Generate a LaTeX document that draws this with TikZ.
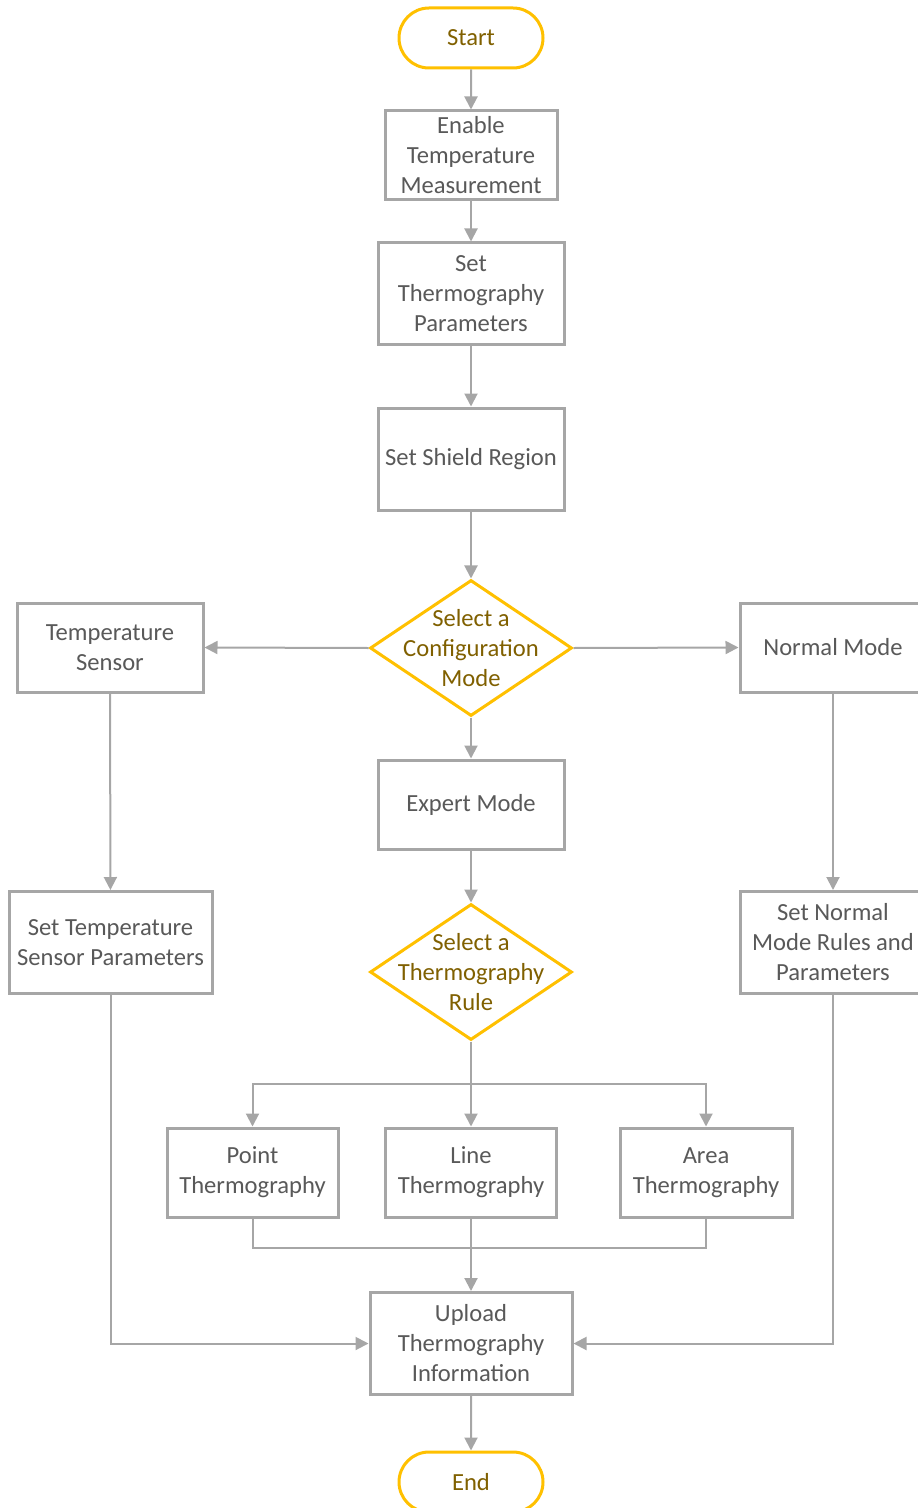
\documentclass[tikz,border=0pt]{standalone}
\usepackage{fontspec}
\setmainfont{Carlito}
\usetikzlibrary{shapes.geometric,shapes.misc,arrows.meta}
\definecolor{linegray}{RGB}{166,166,166}
\definecolor{textgray}{RGB}{89,89,89}
\definecolor{gold}{RGB}{255,192,0}
\definecolor{darkgold}{RGB}{128,96,0}
\begin{document}
\begin{tikzpicture}[x=0.5pt,y=-0.5pt, font=\fontsize{12.3}{15}\selectfont,
  box/.style={draw=linegray, line width=1.5pt, fill=white, text=textgray, align=center, inner sep=0pt, minimum width=93pt, minimum height=44.5pt},
  tall/.style={minimum height=51pt},
  term/.style={rounded rectangle, draw=gold, line width=1.5pt, text=darkgold, minimum width=72pt, minimum height=30pt, inner xsep=0pt},
  decision/.style={diamond, draw=gold, line width=1.5pt, fill=white, inner sep=0pt, minimum width=101pt, minimum height=68pt},
  arr/.style={draw=linegray, line width=1pt, -{Triangle[length=6.5pt,width=6.5pt]}},
  con/.style={draw=linegray, line width=1pt}]
\useasboundingbox (0,0) rectangle (917,1508);
% main column
\node[term] (start) at (471,38) {Start};
\node[box, minimum width=86pt] (enable) at (471,155.5) {Enable\\Temperature\\Measurement};
\node[box, tall] (params) at (471,294) {Set\\Thermography\\Parameters};
\node[box, tall] (shield) at (471,459) {Set Shield Region};
\node[decision, label={[text=darkgold, align=center]center:Select a\\Configuration\\Mode}] (cfgmode) at (471,648) {};
\node[box] (expert) at (471,804.5) {Expert Mode};
\node[decision, label={[text=darkgold, align=center]center:Select a\\Thermography\\Rule}] (rule) at (471,972) {};
% side columns
\node[box] (tsensor) at (110,647.5) {Temperature\\Sensor};
\node[box] (normal) at (833,647.5) {Normal Mode};
\node[box, tall, minimum width=101.5pt] (tsparams) at (110.5,942.5) {Set Temperature\\Sensor Parameters};
\node[box, tall] (nparams) at (833,942.5) {Set Normal\\Mode Rules and\\Parameters};
% rules
\node[box, minimum width=85.5pt] (point) at (252.5,1172.5) {Point\\Thermography};
\node[box, minimum width=85.5pt] (line) at (471,1172.5) {Line\\Thermography};
\node[box, minimum width=86pt] (area) at (706,1172.5) {Area\\Thermography};
\node[box, tall, minimum width=101pt] (upload) at (471,1343.5) {Upload\\Thermography\\Information};
\node[term] (end) at (471,1482) {End};
\coordinate (split) at (471,1084);
\coordinate (join) at (471,1248);
% connectors
\draw[arr] (start) -- (enable);
\draw[arr] (enable) -- (params);
\draw[arr] (params) -- (shield);
\draw[arr] (shield) -- (cfgmode);
\draw[arr] (cfgmode.west) -- (tsensor.east);
\draw[arr] (cfgmode.east) -- (normal.west);
\draw[arr] (cfgmode) -- (expert);
\draw[arr] (expert) -- (rule);
\draw[arr] (tsensor) -- (tsparams);
\draw[arr] (normal) -- (nparams);
\draw[arr] (rule) -- (line);
\draw[arr] (split) -| (point.north);
\draw[arr] (split) -| (area.north);
\draw[con] (point.south) |- (join);
\draw[con] (area.south) |- (join);
\draw[arr] (line) -- (upload);
\draw[arr] (tsparams.south) |- (upload.west);
\draw[arr] (nparams.south) |- (upload.east);
\draw[arr] (upload) -- (end);
\end{tikzpicture}
\end{document}
